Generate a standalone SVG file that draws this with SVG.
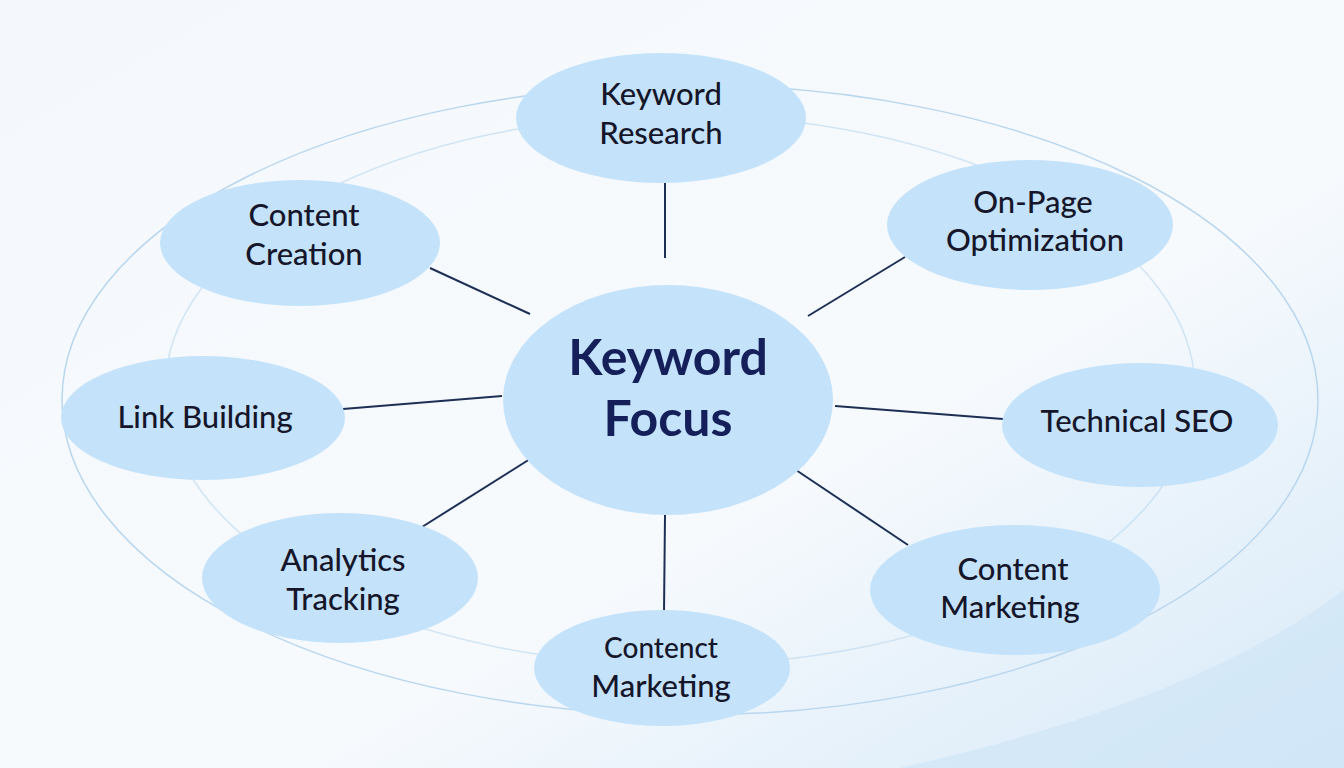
<svg xmlns="http://www.w3.org/2000/svg" width="1344" height="768" viewBox="0 0 1344 768">
<defs>
<linearGradient id="bg" x1="0" y1="0" x2="1" y2="1">
<stop offset="0" stop-color="#f4f8fc"/><stop offset="0.6" stop-color="#f7fafd"/><stop offset="1" stop-color="#d6e9f8"/>
</linearGradient>
<style>
.n{fill:#c4e3fb}
.t{font-family:Lato,"Open Sans",sans-serif;font-size:31px;font-weight:500;fill:#16162a;text-anchor:middle}
.c{font-family:Lato,"Open Sans",sans-serif;font-size:50px;font-weight:bold;fill:#15205a;text-anchor:middle}
.e{stroke:#1e2f55;stroke-width:2;fill:none}
.d{fill:none;stroke:#b9d6ef;stroke-width:1.5}
</style>
</defs>
<rect width="1344" height="768" fill="url(#bg)"/>
<g id="decor">
<ellipse class="d" cx="690" cy="400" rx="628" ry="315"/>
<ellipse class="d" cx="680" cy="390" rx="515" ry="275" opacity="0.6"/>
<path d="M1344 590 Q1200 700 900 768 L1344 768 Z" fill="#cfe5f7" opacity="0.7"/>
</g>
<g id="connectors">
<line class="e" x1="665" y1="183" x2="665" y2="258"/>
<line class="e" x1="808" y1="316" x2="905" y2="257"/>
<line class="e" x1="835" y1="406" x2="1003" y2="419"/>
<line class="e" x1="796" y1="470" x2="908" y2="545"/>
<line class="e" x1="665" y1="515" x2="664" y2="612"/>
<line class="e" x1="530" y1="459" x2="422" y2="527"/>
<line class="e" x1="502" y1="396" x2="343" y2="409"/>
<line class="e" x1="530" y1="314" x2="430" y2="268"/>
</g>
<g id="center"><ellipse class="n" cx="668" cy="400" rx="165" ry="115"/><text class="c" x="668" y="375">Keyword</text><text class="c" x="668" y="436">Focus</text></g>
<g id="research"><ellipse class="n" cx="661" cy="118" rx="145" ry="65"/><text class="t" x="661" y="105">Keyword</text><text class="t" x="661" y="144">Research</text></g>
<g id="onpage"><ellipse class="n" cx="1030" cy="225" rx="143" ry="65"/><text class="t" x="1033" y="213">On-Page</text><text class="t" x="1035" y="251">Optimization</text></g>
<g id="technical"><ellipse class="n" cx="1140" cy="425" rx="138" ry="62"/><text class="t" x="1137" y="432">Technical SEO</text></g>
<g id="contentmarketing"><ellipse class="n" cx="1015" cy="590" rx="145" ry="65"/><text class="t" x="1013" y="580">Content</text><text class="t" x="1010" y="618">Marketing</text></g>
<g id="contenctmarketing"><ellipse class="n" cx="662" cy="668" rx="128" ry="58"/><text class="t" x="661" y="658" style="font-size:28px">Contenct</text><text class="t" x="661" y="697">Marketing</text></g>
<g id="analytics"><ellipse class="n" cx="340" cy="578" rx="138" ry="65"/><text class="t" x="343" y="571">Analytics</text><text class="t" x="343" y="610">Tracking</text></g>
<g id="linkbuilding"><ellipse class="n" cx="203" cy="418" rx="142" ry="62"/><text class="t" x="205" y="428">Link Building</text></g>
<g id="creation"><ellipse class="n" cx="300" cy="243" rx="140" ry="63"/><text class="t" x="304" y="226">Content</text><text class="t" x="304" y="265">Creation</text></g>
</svg>
